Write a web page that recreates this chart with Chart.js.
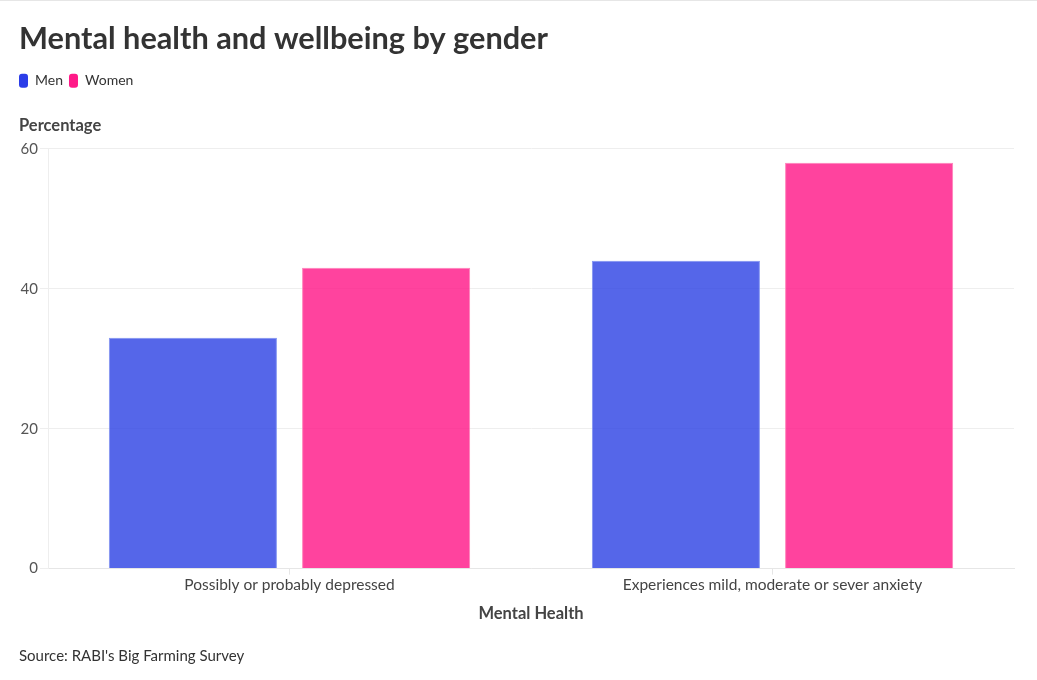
<!DOCTYPE html>
<html>
<head>
<meta charset="utf-8">
<script src="https://cdn.jsdelivr.net/npm/chart.js@4.4.1/dist/chart.umd.min.js"></script>
<style>
  body { margin: 0; background: #fff; font-family: Lato, "Open Sans", sans-serif; }
  #wrap { position: absolute; left: 0; top: 0; width: 1037px; height: 680px; border-top: 1px solid #e6e6e6; box-sizing: border-box; }
  #yTitle { position: absolute; left: 19px; top: 115px; font-size: 16.5px; font-weight: bold; color: #444; }
  #source { position: absolute; left: 19px; top: 646px; font-size: 15px; color: #333; }
</style>
</head>
<body>
<div id="wrap">
  <canvas id="chart"></canvas>
</div>
<div id="yTitle">Percentage</div>
<div id="source">Source: RABI's Big Farming Survey</div>
<script>
// Mental health by gender //
const categories = ['Possibly or probably depressed', 'Experiences mild, moderate or sever anxiety'];
const menValues = [33, 44];
const womenValues = [43, 58];
const yTicks = [0, 20, 40, 60];

const menColor = '#2b3de8';
const womenColor = '#ff1a88';

const ctx = document.getElementById('chart');
ctx.width = 1037;
ctx.height = 680;

new Chart(ctx, {
  type: 'bar',
  data: {
    labels: categories,
    datasets: [{
      label: 'Men',
      data: menValues,
      backgroundColor: 'rgba(43, 64, 228, 0.8)',
      borderColor: 'rgba(120, 140, 240, 0.9)',
      borderWidth: 1,
      categoryPercentage: 0.8,
      barPercentage: 0.87
    }, {
      label: 'Women',
      data: womenValues,
      backgroundColor: 'rgba(255, 20, 134, 0.8)',
      borderColor: 'rgba(255, 120, 180, 0.9)',
      borderWidth: 1,
      categoryPercentage: 0.8,
      barPercentage: 0.87
    }]
  },
  options: {
    responsive: false,
    animation: false,
    layout: { padding: { left: 13, right: 23, top: 0, bottom: 53 } },
    scales: {
      x: {
        grid: { display: true, drawOnChartArea: false, offset: false, color: '#e6e6e6', tickLength: 6 },
        border: { color: '#e6e6e6' },
        ticks: { color: '#444', font: { family: 'Lato', size: 15.5 }, padding: 1 },
        title: { display: true, text: 'Mental Health', color: '#444', font: { family: 'Lato', size: 16.5, weight: 'bold' }, padding: { top: 9 } }
      },
      y: {
        min: 0,
        max: 60,
        afterBuildTicks: axis => { axis.ticks = yTicks.map(v => ({ value: v })); },
        afterFit: axis => { axis.width = 35; },
        grid: { color: '#eeeeee', tickLength: 8 },
        border: { color: '#eeeeee' },
        ticks: { color: '#555', font: { family: 'Lato', size: 15 }, padding: 2 }
      }
    },
    plugins: {
      title: {
        display: true,
        text: 'Mental health and wellbeing by gender',
        align: 'start',
        color: '#333',
        font: { family: 'Lato', size: 30.7, weight: 'bold' },
        padding: { top: 20, bottom: 10 }
      },
      legend: {
        display: true,
        align: 'start',
        labels: {
          boxWidth: 9,
          boxHeight: 14,
          useBorderRadius: true,
          borderRadius: 3,
          color: '#333',
          padding: 6,
          font: { family: 'Lato', size: 14 },
          generateLabels: chart => chart.data.datasets.map((ds, i) => ({
            text: ds.label,
            fillStyle: i === 0 ? menColor : womenColor,
            strokeStyle: i === 0 ? menColor : womenColor,
            lineWidth: 0,
            fontColor: '#333',
            borderRadius: 3,
            datasetIndex: i
          }))
        }
      },
      tooltip: { enabled: false }
    }
  },
  plugins: [{
    id: 'legendGap',
    beforeInit(chart) {
      const fit = chart.legend.fit;
      chart.legend.fit = function () {
        fit.bind(chart.legend)();
        this.height += 51;
      };
    },
    afterLayout(chart) {
      // line the title up with the legend boxes
      chart.titleBlock.left += 6;
    }
  }]
});
</script>
</body>
</html>
